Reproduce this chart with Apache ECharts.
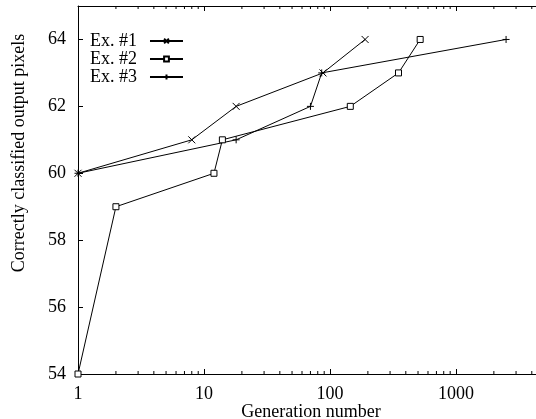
<!DOCTYPE html>
<html>
<head>
<meta charset="utf-8">
<script src="https://cdn.jsdelivr.net/npm/echarts@6/dist/echarts.min.js"></script>
<style>
  html, body { margin: 0; padding: 0; background: #fff; }
  #chart { width: 536px; height: 419px; }
</style>
</head>
<body>
<div id="chart"></div>
<script>
// data
const seriesNames = ['Ex. #1', 'Ex. #2', 'Ex. #3'];
const ex1Gen = [1, 8, 18, 88, 190];
const ex1Pix = [60, 61, 62, 63, 64];
const ex2Gen = [1, 2, 12, 14, 145, 350, 520];
const ex2Pix = [54, 59, 60, 61, 62, 63, 64];
const ex3Gen = [1, 18, 70, 86, 2500];
const ex3Pix = [60, 61, 62, 63, 64];
// minor log ticks between the decades
const minorTicks = [2, 3, 4, 5, 6, 7, 8, 9, 20, 30, 40, 50, 60, 70, 80, 90,
  200, 300, 400, 500, 600, 700, 800, 900, 2000, 3000, 4000, 5000];

const FONT = 'Liberation Serif';
const FS = 18;
const xMin = 1, xMax = 5000, yMin = 54, yMax = 65;

function pairs(xs, ys) {
  return xs.map((x, i) => [x, ys[i]]);
}

const chart = echarts.init(document.getElementById('chart'));

const lineSeries = (name, data, symbol, size, fill) => ({
  name: name,
  type: 'line',
  data: data,
  symbol: symbol,
  symbolSize: size,
  showAllSymbol: true,
  animation: false,
  lineStyle: { color: '#000', width: 1 },
  itemStyle: { color: fill, borderColor: '#000', borderWidth: 1 },
  emphasis: { disabled: true },
  z: 3
});

chart.setOption({
  animation: false,
  textStyle: { fontFamily: FONT },
  grid: { left: 78, right: -8, top: 6, bottom: 45, containLabel: false, outerBoundsMode: 'none' },
  legend: {
    orient: 'vertical',
    left: 85,
    top: 27,
    align: 'right',
    itemWidth: 33,
    itemHeight: 6,
    itemGap: 0,
    textStyle: { fontFamily: FONT, fontSize: FS, color: '#000', lineHeight: 18, padding: [0, 8, 0, 0] },
    data: seriesNames
  },
  xAxis: [{
    type: 'log',
    logBase: 10,
    min: xMin,
    max: xMax,
    name: 'Generation number',
    nameLocation: 'middle',
    nameGap: 29,
    nameMoveOverlap: false,
    nameTextStyle: { fontFamily: FONT, fontSize: FS, color: '#000' },
    axisLine: { lineStyle: { color: '#000', width: 1 } },
    axisTick: { inside: true, length: 5, lineStyle: { color: '#000' } },
    axisLabel: {
      fontFamily: FONT, fontSize: FS, color: '#000', margin: 11,
      showMaxLabel: false,
      formatter: v => String(Math.round(v))
    },
    splitLine: { show: false }
  }, {
    type: 'log',
    logBase: 10,
    min: xMin,
    max: xMax,
    position: 'top',
    axisLine: { lineStyle: { color: '#000', width: 1 } },
    axisTick: { inside: true, length: 5, lineStyle: { color: '#000' } },
    axisLabel: { show: false },
    splitLine: { show: false }
  }],
  yAxis: {
    type: 'value',
    min: yMin,
    max: yMax,
    interval: 2,
    name: 'Correctly classified output pixels',
    nameLocation: 'middle',
    nameGap: 50,
    nameMoveOverlap: false,
    nameTextStyle: { fontFamily: FONT, fontSize: FS, color: '#000', padding: [0, 0, 0, 74] },
    axisLine: { show: true, lineStyle: { color: '#000', width: 1 } },
    axisTick: { show: true, inside: true, length: 5, lineStyle: { color: '#000' } },
    axisLabel: { fontFamily: FONT, fontSize: FS, color: '#000', margin: 12, showMaxLabel: false },
    splitLine: { show: false }
  },
  series: [
    lineSeries(seriesNames[0], pairs(ex1Gen, ex1Pix), 'path://M0,0L10,10M10,0L0,10', 7, '#000'),
    lineSeries(seriesNames[1], pairs(ex2Gen, ex2Pix), 'path://M0,0L10,0L10,10L0,10Z', 6, '#fff'),
    lineSeries(seriesNames[2], pairs(ex3Gen, ex3Pix), 'path://M5,0L5,10M0,5L10,5', 7, '#000'),
    {
      // minor ticks on bottom and top frame
      type: 'custom',
      silent: true,
      clip: false,
      data: minorTicks.map(v => [v]),
      encode: { x: 0 },
      renderItem: function (params, api) {
        const v = api.value(0);
        const b = api.coord([v, yMin]);
        const t = api.coord([v, yMax]);
        return {
          type: 'group',
          children: [
            { type: 'line', shape: { x1: b[0], y1: b[1], x2: b[0], y2: b[1] - 3 }, style: { stroke: '#000', lineWidth: 1 } },
            { type: 'line', shape: { x1: t[0], y1: t[1], x2: t[0], y2: t[1] + 3 }, style: { stroke: '#000', lineWidth: 1 } }
          ]
        };
      }
    }
  ]
});
</script>
</body>
</html>
